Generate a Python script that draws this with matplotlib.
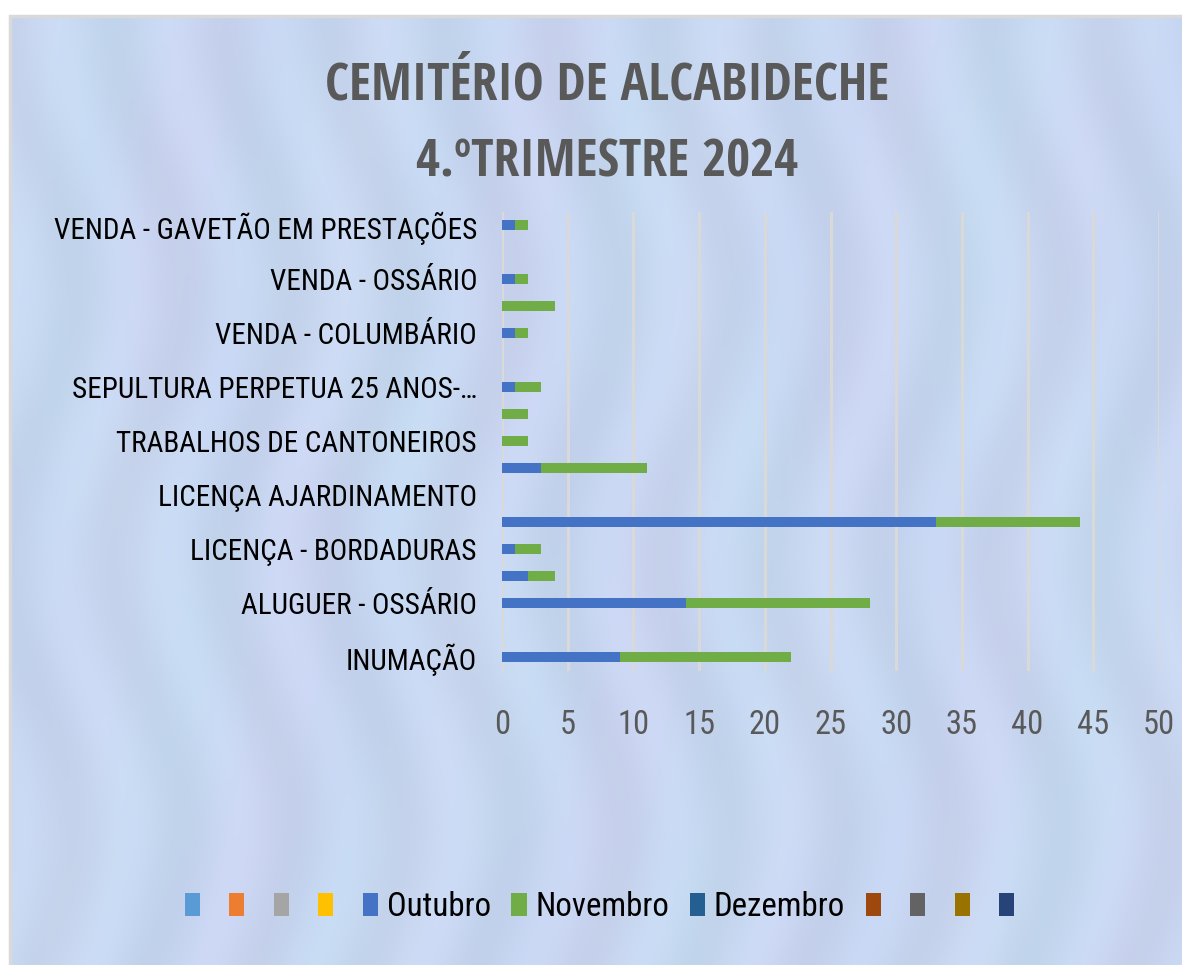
import numpy as np
import matplotlib
matplotlib.use("Agg")
import matplotlib.pyplot as plt
from matplotlib.patches import Patch, Rectangle
from matplotlib import font_manager as fm
from matplotlib.textpath import TextPath

# categorias (de baixo para cima); so metade tem rotulo visivel no grafico
categorias = ["INUMAÇÃO", "", "ALUGUER - OSSÁRIO", "", "LICENÇA - BORDADURAS", "",
              "LICENÇA AJARDINAMENTO", "", "TRABALHOS DE CANTONEIROS", "",
              "SEPULTURA PERPETUA 25 ANOS-…", "", "VENDA - COLUMBÁRIO", "",
              "VENDA - OSSÁRIO", "", "VENDA - GAVETÃO EM PRESTAÇÕES"]
outubro = [9, 0, 14, 2, 1, 33, 0, 3, 0, 0, 1, 0, 1, 0, 1, 0, 1]
novembro = [13, 0, 14, 2, 2, 11, 0, 8, 2, 2, 2, 0, 1, 4, 1, 0, 1]
dezembro = [0, 0, 0, 0, 0, 0, 0, 0, 0, 0, 0, 0, 0, 0, 0, 0, 0]

serie_nomes = ["", "", "", "", "Outubro", "Novembro", "Dezembro", "", "", "", ""]
serie_cores = ["#5B9BD5", "#ED7D31", "#A5A5A5", "#FFC000", "#4472C4", "#70AD47",
               "#255E91", "#9E480E", "#636363", "#997300", "#264478"]

titulo1 = "CEMITÉRIO DE ALCABIDECHE"
titulo2 = "4.ºTRIMESTRE 2024"


def largura_px(texto, fp, size):
    # largura do texto em pixels (100 dpi)
    return TextPath((0, 0), texto, size=size, prop=fp).get_extents().width * 100 / 72


def peso_num(w):
    if isinstance(w, (int, float)):
        return int(w)
    return fm.weight_dict.get(w, 400)


# o original usa uma letra condensada: escolher a mais estreita disponivel
pesos = {}
for f in fm.fontManager.ttflist:
    pesos.setdefault(f.name, set()).add(peso_num(f.weight))

candidatas = ["Liberation Sans Narrow", "Roboto Condensed", "Open Sans Condensed",
              "Lato", "Roboto", "Inter", "Liberation Sans", "DejaVu Sans"]


def mais_estreita(texto, peso, aceita):
    melhor = None
    for fam in candidatas:
        ok = [p for p in pesos.get(fam, ()) if aceita(p)]
        if not ok:
            continue
        p = min(ok, key=lambda v: abs(v - peso))
        w = largura_px(texto, fm.FontProperties(family=fam, weight=p), 100)
        if melhor is None or w < melhor[2]:
            melhor = (fam, p, w)
    return melhor[0], melhor[1]


FAM_B, PESO_B = mais_estreita(titulo1, 700, lambda p: p >= 600)
FAM_R, PESO_R = mais_estreita(categorias[-1], 400, lambda p: 280 <= p <= 500)
plt.rcParams["font.family"] = [FAM_R, "DejaVu Sans"]
plt.rcParams["font.weight"] = PESO_R


def tamanho(texto, alvo_px, fam, peso, maximo=40):
    fp = fm.FontProperties(family=fam, weight=peso)
    return min(maximo, 100 * alvo_px / largura_px(texto, fp, 100))


tam_rotulo = tamanho(categorias[-1], 429, FAM_R, PESO_R, maximo=21)
tam_titulo = tamanho(titulo1, 560, FAM_B, PESO_B, maximo=42)
tam_eixo = tamanho("50", 28, FAM_R, PESO_R, maximo=24)
tam_legenda = tamanho("Novembro", 130, FAM_R, PESO_R, maximo=25)

W, H = 1182, 965
fig = plt.figure(figsize=(W / 100, H / 100), dpi=100)
fig.patch.set_facecolor("white")

# fundo pastel (textura suave)
bg = fig.add_axes([10 / W, 0, 1 - 10 / W, 1 - 17 / H], zorder=-5)
xx, yy = np.meshgrid(np.linspace(0, 1, 400), np.linspace(0, 1, 330))
azul = np.array([0.79, 0.85, 0.96])
ciano = np.array([0.78, 0.90, 0.96])
lilas = np.array([0.85, 0.85, 0.97])
a = 0.5 + 0.5 * np.sin(xx * 23 + np.sin(yy * 7) * 1.5)
b = 0.5 + 0.5 * np.sin(xx * 41 + yy * 5 + 1.3)
c = 0.5 + 0.5 * np.sin(xx * 67 + np.cos(yy * 11) * 2.0)
img = azul * (1 - 0.35 * a[..., None]) + ciano * 0.35 * a[..., None]
img = img * (1 - 0.3 * b[..., None]) + lilas * 0.3 * b[..., None]
img = img * (1 - 0.04 * c[..., None])
bg.imshow(img, aspect="auto", extent=[0, 1, 0, 1], interpolation="bicubic")
bg.set_axis_off()
fig.patches.append(Rectangle((10 / W, -0.01), 1.0, 1 - 16 / H + 0.01,
                             transform=fig.transFigure, fill=False,
                             edgecolor="#d9d9d9", linewidth=2.5, zorder=-4))

ax = fig.add_axes([502 / W, 1 - 670.5 / H, 657 / W, 459 / H])
ax.patch.set_alpha(0)
y = np.arange(len(categorias))
ax.barh(y, outubro, height=0.37, color=serie_cores[4], zorder=3)
ax.barh(y, novembro, left=outubro, height=0.37, color=serie_cores[5], zorder=3)
ax.barh(y, dezembro, left=np.add(outubro, novembro), height=0.37,
        color=serie_cores[6], zorder=3)

ax.set_xlim(0, 50)
ax.set_ylim(-0.5, len(categorias) - 0.5)
ax.set_xticks(range(0, 51, 5))
ax.set_yticks(y)
ax.set_yticklabels(categorias, fontsize=tam_rotulo, color="black")
ax.tick_params(axis="x", length=0, pad=28, labelsize=tam_eixo, labelcolor="#595959")
ax.tick_params(axis="y", length=0, pad=18)
ax.grid(axis="x", color="#d9d9d9", linewidth=2.2, zorder=0)
for s in ax.spines.values():
    s.set_visible(False)

for txt, yc in [(titulo1, 86), (titulo2, 163)]:
    fig.text(607 / W, 1 - yc / H, txt, ha="center", va="center",
             fontsize=tam_titulo, family=[FAM_B, "DejaVu Sans"], fontweight=PESO_B,
             color="#595959")

handles = [Patch(facecolor=c) for c in serie_cores]
fs = tam_legenda * 100 / 72
fig.legend(handles, serie_nomes, loc="center", bbox_to_anchor=(604 / W, 1 - 907 / H),
           ncol=len(handles), frameon=False, fontsize=tam_legenda,
           handlelength=15 / fs, handleheight=24 / fs, handletextpad=9 / fs,
           columnspacing=20.5 / fs)

fig.savefig("out.png", dpi=100)
